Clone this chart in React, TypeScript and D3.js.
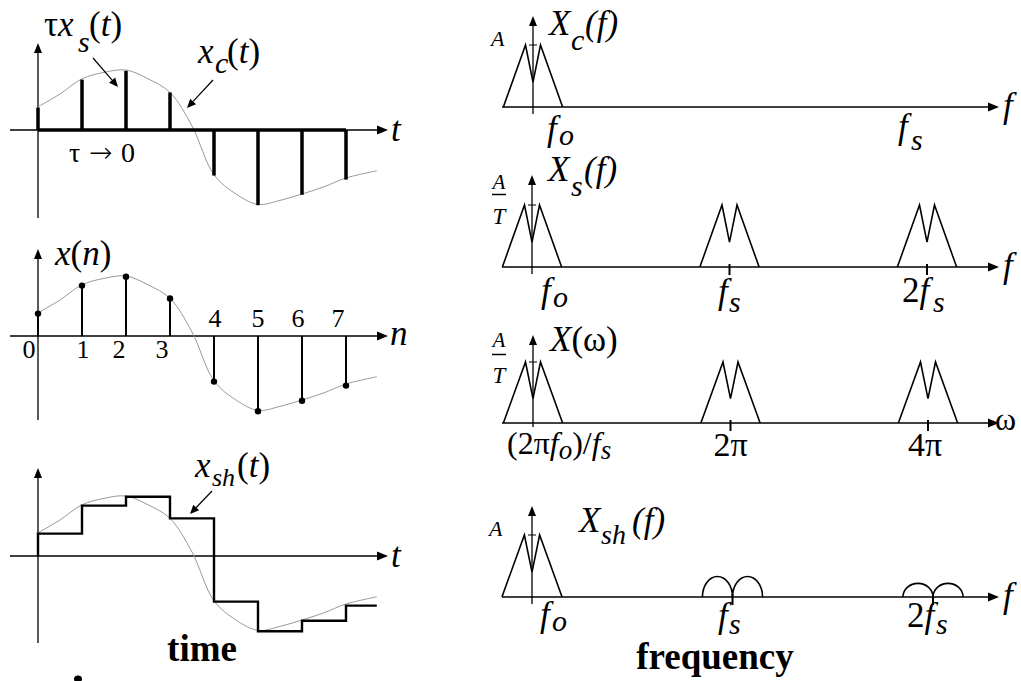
import React from 'react';
import * as d3 from 'd3';

// Sampled signal x(n), n = 0..7 (normalised amplitude)
const sampleIndex = [0, 1, 2, 3, 4, 5, 6, 7];
const sampleValues = [0.28, 0.63, 0.74, 0.47, -0.57, -0.94, -0.81, -0.62];

// Continuous signal x_c(t), t in sample periods
const curveTimes = [0, 0.5, 1, 1.5, 2, 2.5, 3, 3.5, 4, 4.5, 5, 5.5, 6, 6.5, 7, 7.7];
const curveValues = [0.29, 0.45, 0.64, 0.72, 0.75, 0.64, 0.47, 0.05, -0.56, -0.8, -0.93, -0.88, -0.8, -0.71, -0.6, -0.51];
const holdEnd = 7.7;

// Baseband spectrum shape: frequency (in units of fs) and magnitude (in units of A)
const bandFreq = [-0.15, -0.038, 0, 0.038, 0.15];
const bandMag = [0, 1, 0.4, 1, 0];
const replicaCenters = [1, 2];
// Sample-and-hold replicas are attenuated by the sinc envelope
const holdReplicaHeights = [0.33, 0.22];

const serif = 'Liberation Serif';
const MAIN = 35;
const SUB = 30;

const tScale = d3.scaleLinear().domain([0, 7]).range([38, 346]);
const ampPx = 80;
const ySc = (axisY: number) => d3.scaleLinear().domain([-1, 1]).range([axisY + ampPx, axisY - ampPx]);

const curvePts: [number, number][] = curveTimes.map((t, i) => [t, curveValues[i]]);

function Curve({ y }: { y: d3.ScaleLinear<number, number> }) {
  const line = d3
    .line<[number, number]>()
    .x((d) => tScale(d[0]))
    .y((d) => y(d[1]))
    .curve(d3.curveCatmullRom.alpha(0.5));
  return <path d={line(curvePts) || ''} fill="none" stroke="#999" strokeWidth={1} />;
}

function TimeAxes({ axisY, top, bottom }: { axisY: number; top: number; bottom: number }) {
  return (
    <g>
      <line x1={10} x2={380} y1={axisY} y2={axisY} stroke="#000" strokeWidth={1.3} />
      <path d={`M388,${axisY} L377,${axisY - 4.5} L377,${axisY + 4.5} Z`} fill="#000" />
      <line x1={tScale(0)} x2={tScale(0)} y1={top + 8} y2={bottom} stroke="#000" strokeWidth={1.3} />
      <path d={`M${tScale(0)},${top} L${tScale(0) - 4},${top + 10} L${tScale(0) + 4},${top + 10} Z`} fill="#000" />
    </g>
  );
}

function Pointer({ x1, y1, x2, y2 }: { x1: number; y1: number; x2: number; y2: number }) {
  const a = Math.atan2(y2 - y1, x2 - x1);
  const L = 9, W = 4;
  const bx = x2 - L * Math.cos(a), by = y2 - L * Math.sin(a);
  const px = -Math.sin(a) * W, py = Math.cos(a) * W;
  return (
    <g>
      <line x1={x1} y1={y1} x2={bx} y2={by} stroke="#000" strokeWidth={1.2} />
      <path d={`M${x2},${y2} L${bx + px},${by + py} L${bx - px},${by - py} Z`} fill="#000" />
    </g>
  );
}

function FreqAxes({ axisY, x0, top, bottom }: { axisY: number; x0: number; top: number; bottom: number }) {
  return (
    <g>
      <line x1={502} x2={991} y1={axisY} y2={axisY} stroke="#000" strokeWidth={1.3} />
      <path d={`M999,${axisY} L988,${axisY - 4.5} L988,${axisY + 4.5} Z`} fill="#000" />
      <line x1={x0} x2={x0} y1={top + 8} y2={bottom} stroke="#000" strokeWidth={1.3} />
      <path d={`M${x0},${top} L${x0 - 4},${top + 10} L${x0 + 4},${top + 10} Z`} fill="#000" />
    </g>
  );
}

function Band({ f, a, center }: { f: d3.ScaleLinear<number, number>; a: d3.ScaleLinear<number, number>; center: number }) {
  const line = d3
    .line<number>()
    .x((_, i) => f(center + bandFreq[i]))
    .y((_, i) => a(bandMag[i]));
  return <path d={line(bandMag) || ''} fill="none" stroke="#000" strokeWidth={1.6} strokeLinejoin="miter" />;
}

function Tick({ x, axisY }: { x: number; axisY: number }) {
  return <line x1={x} x2={x} y1={axisY - 3} y2={axisY + 8} stroke="#000" strokeWidth={2} />;
}

function ATick({ x, y }: { x: number; y: number }) {
  return <line x1={x - 4} x2={x + 4} y1={y} y2={y} stroke="#000" strokeWidth={1} />;
}

// italic symbol with a lowered subscript, e.g. f_s
function Sub({ x, y, base, sub, subX, drop, pre }: { x: number; y: number; base: string; sub: string; subX: number; drop: number; pre?: string }) {
  return (
    <text y={y} fontSize={MAIN}>
      {pre && <tspan x={x}>{pre}</tspan>}
      <tspan x={pre ? undefined : x} fontStyle="italic">{base}</tspan>
      <tspan x={subX} y={y + drop} fontStyle="italic" fontSize={SUB}>{sub}</tspan>
    </text>
  );
}

export default function App() {
  // time-domain panels
  const y1 = ySc(130);
  const y2 = ySc(336);
  const y3 = ySc(556);

  const holdPts: [number, number][] = [[0, 0], ...sampleIndex.map((n, i) => [n, sampleValues[i]] as [number, number]), [holdEnd, sampleValues[sampleValues.length - 1]]];
  const holdLine = d3
    .line<[number, number]>()
    .x((d) => tScale(d[0]))
    .y((d) => y3(d[1]))
    .curve(d3.curveStepAfter);

  // frequency-domain panels
  const fA = d3.scaleLinear().domain([0, 2]).range([533, 928]);
  const aA = d3.scaleLinear().domain([0, 1]).range([107, 45]);
  const fB = d3.scaleLinear().domain([0, 2]).range([532, 927]);
  const aB = d3.scaleLinear().domain([0, 1]).range([267, 205]);
  const fC = d3.scaleLinear().domain([0, 2]).range([533, 928]);
  const aC = d3.scaleLinear().domain([0, 1]).range([423, 362]);
  const fD = d3.scaleLinear().domain([0, 2]).range([532, 933]);
  const aD = d3.scaleLinear().domain([0, 1]).range([597, 535]);

  const humps = (center: number, h: number) => {
    const xl = fD(center - 0.15), xc = fD(center), xr = fD(center + 0.15);
    const ry = aD(0) - aD(h);
    const rx1 = (xc - xl) / 2, rx2 = (xr - xc) / 2;
    return `M${xl},${aD(0)} A${rx1},${ry} 0 0 1 ${xc},${aD(0)} A${rx2},${ry} 0 0 1 ${xr},${aD(0)}`;
  };

  const nLabelDx = [-9, 1, -7, -8, 1, 0, -4, -8];

  return (
    <svg width={1021} height={681} style={{ position: 'absolute', left: 0, top: 0, background: '#fff', fontFamily: serif }}>
      <rect width={1021} height={681} fill="#fff" />

      {/* ---------- x_s(t): impulse train ---------- */}
      <TimeAxes axisY={130} top={43} bottom={218} />
      <Curve y={y1} />
      <line x1={tScale(0)} x2={tScale(7)} y1={130} y2={130} stroke="#000" strokeWidth={3.5} />
      {sampleIndex.map((n, i) => (
        <line key={n} x1={tScale(n)} x2={tScale(n)} y1={130} y2={y1(sampleValues[i])} stroke="#000" strokeWidth={3.5} />
      ))}
      <text y={36} fontSize={MAIN}>
        <tspan x={44}>τ</tspan>
        <tspan fontStyle="italic">x</tspan>
        <tspan x={78} y={52} fontStyle="italic" fontSize={SUB}>s</tspan>
        <tspan x={89} y={36}>(</tspan>
        <tspan fontStyle="italic">t</tspan>
        <tspan>)</tspan>
      </text>
      <Pointer x1={93} y1={58} x2={118} y2={87} />
      <text y={63} fontSize={MAIN}>
        <tspan x={198} fontStyle="italic">x</tspan>
        <tspan x={215} y={73} fontStyle="italic" fontSize={SUB}>c</tspan>
        <tspan x={227} y={63}>(</tspan>
        <tspan fontStyle="italic">t</tspan>
        <tspan>)</tspan>
      </text>
      <Pointer x1={213} y1={80} x2={187} y2={108} />
      <text y={162} fontSize={28}>
        <tspan x={69}>τ</tspan>
        <tspan x={89} fontFamily="DejaVu Sans" fontWeight={300}>→</tspan>
        <tspan x={121}>0</tspan>
      </text>
      <text x={391} y={141} fontSize={MAIN} fontStyle="italic">t</text>

      {/* ---------- x(n): discrete sequence ---------- */}
      <TimeAxes axisY={336} top={249} bottom={420} />
      <Curve y={y2} />
      {sampleIndex.map((n, i) => (
        <g key={n}>
          <line x1={tScale(n)} x2={tScale(n)} y1={336} y2={y2(sampleValues[i])} stroke="#000" strokeWidth={2} />
          <circle cx={tScale(n)} cy={y2(sampleValues[i])} r={3.2} fill="#000" />
          <text x={tScale(n) + nLabelDx[i]} y={sampleValues[i] > 0 ? 358 : 327} fontSize={26} textAnchor="middle">
            {n}
          </text>
        </g>
      ))}
      <text x={55} y={265} fontSize={MAIN}>
        <tspan fontStyle="italic">x</tspan>
        <tspan>(</tspan>
        <tspan fontStyle="italic">n</tspan>
        <tspan>)</tspan>
      </text>
      <text x={390} y={345} fontSize={MAIN} fontStyle="italic">n</text>

      {/* ---------- x_sh(t): sample and hold ---------- */}
      <TimeAxes axisY={556} top={468} bottom={643} />
      <Curve y={y3} />
      <path d={holdLine(holdPts) || ''} fill="none" stroke="#000" strokeWidth={2.4} />
      <text y={477} fontSize={MAIN}>
        <tspan x={195} fontStyle="italic">x</tspan>
        <tspan x={212} y={486} fontStyle="italic" fontSize={26}>sh</tspan>
        <tspan x={237} y={477}>(</tspan>
        <tspan fontStyle="italic">t</tspan>
        <tspan>)</tspan>
      </text>
      <Pointer x1={212} y1={491} x2={190} y2={514} />
      <text x={391} y={567} fontSize={MAIN} fontStyle="italic">t</text>
      <text x={202} y={661} fontSize={37} fontWeight="bold" textAnchor="middle">time</text>
      <ellipse cx={78} cy={679} rx={4} ry={3.5} fill="#000" />

      {/* ---------- X_c(f) ---------- */}
      <FreqAxes axisY={107} x0={533} top={16} bottom={114} />
      <Band f={fA} a={aA} center={0} />
      <ATick x={533} y={aA(1)} />
      <text x={491} y={46} fontSize={22} fontStyle="italic">A</text>
      <text y={35} fontSize={MAIN}>
        <tspan x={549} fontStyle="italic">X</tspan>
        <tspan x={571} y={50} fontStyle="italic" fontSize={SUB}>c</tspan>
        <tspan x={585} y={35} fontStyle="italic">(f)</tspan>
      </text>
      <Sub x={547} y={140} base="f" sub="o" subX={559} drop={5} />
      <Sub x={898} y={138} base="f" sub="s" subX={911} drop={12} />
      <text x={1003} y={117} fontSize={MAIN} fontStyle="italic">f</text>

      {/* ---------- X_s(f) ---------- */}
      <FreqAxes axisY={267} x0={532} top={175} bottom={274} />
      <Band f={fB} a={aB} center={0} />
      {replicaCenters.map((c) => (
        <g key={c}>
          <Band f={fB} a={aB} center={c} />
          <Tick x={fB(c)} axisY={267} />
        </g>
      ))}
      <ATick x={532} y={aB(1)} />
      <text x={499} y={189} fontSize={21} fontStyle="italic" textAnchor="middle">A</text>
      <line x1={492} x2={506} y1={194.5} y2={194.5} stroke="#000" strokeWidth={1.5} />
      <text x={499} y={224} fontSize={23} fontStyle="italic" textAnchor="middle">T</text>
      <text y={181} fontSize={MAIN}>
        <tspan x={548} fontStyle="italic">X</tspan>
        <tspan x={571} y={196} fontStyle="italic" fontSize={SUB}>s</tspan>
        <tspan x={584} y={181} fontStyle="italic">(f)</tspan>
      </text>
      <Sub x={541} y={302} base="f" sub="o" subX={553} drop={5} />
      <Sub x={718} y={303} base="f" sub="s" subX={729} drop={9} />
      <Sub x={902} y={302} pre="2" base="f" sub="s" subX={933} drop={10} />
      <text x={1003} y={277} fontSize={MAIN} fontStyle="italic">f</text>

      {/* ---------- X(ω) ---------- */}
      <FreqAxes axisY={423} x0={533} top={335} bottom={427} />
      <Band f={fC} a={aC} center={0} />
      {replicaCenters.map((c) => (
        <g key={c}>
          <Band f={fC} a={aC} center={c} />
          <Tick x={fC(c)} axisY={423} />
        </g>
      ))}
      <ATick x={533} y={aC(1)} />
      <text x={499} y={347} fontSize={21} fontStyle="italic" textAnchor="middle">A</text>
      <line x1={492} x2={506} y1={354.5} y2={354.5} stroke="#000" strokeWidth={1.5} />
      <text x={499} y={383} fontSize={23} fontStyle="italic" textAnchor="middle">T</text>
      <text x={550} y={351} fontSize={MAIN}>
        <tspan fontStyle="italic">X</tspan>
        <tspan>(ω)</tspan>
      </text>
      <text y={454} fontSize={32}>
        <tspan x={507}>(2π</tspan>
        <tspan fontStyle="italic">f</tspan>
        <tspan fontStyle="italic" fontSize={27} dy={5}>o</tspan>
        <tspan dy={-5}>)/</tspan>
        <tspan fontStyle="italic">f</tspan>
        <tspan fontStyle="italic" fontSize={27} dy={5}>s</tspan>
      </text>
      <text x={fC(1)} y={456} fontSize={34} textAnchor="middle">2π</text>
      <text x={925} y={456} fontSize={34} textAnchor="middle">4π</text>
      <text x={995} y={430} fontSize={32}>ω</text>

      {/* ---------- X_sh(f) ---------- */}
      <FreqAxes axisY={597} x0={532} top={506} bottom={604} />
      <Band f={fD} a={aD} center={0} />
      {replicaCenters.map((c, i) => (
        <g key={c}>
          <path d={humps(c, holdReplicaHeights[i])} fill="none" stroke="#000" strokeWidth={1.6} />
          <Tick x={fD(c)} axisY={597} />
        </g>
      ))}
      <ATick x={532} y={aD(1)} />
      <text x={489} y={536} fontSize={22} fontStyle="italic">A</text>
      <text y={532} fontSize={MAIN}>
        <tspan x={579} fontStyle="italic">X</tspan>
        <tspan x={601} y={544} fontStyle="italic" fontSize={28}>sh</tspan>
        <tspan x={632} y={532} fontStyle="italic">(f)</tspan>
      </text>
      <Sub x={540} y={626} base="f" sub="o" subX={552} drop={5} />
      <Sub x={718} y={627} base="f" sub="s" subX={729} drop={7} />
      <Sub x={907} y={627} pre="2" base="f" sub="s" subX={936} drop={7} />
      <text x={1003} y={607} fontSize={MAIN} fontStyle="italic">f</text>
      <text x={715} y={669} fontSize={37} fontWeight="bold" textAnchor="middle">frequency</text>
    </svg>
  );
}
